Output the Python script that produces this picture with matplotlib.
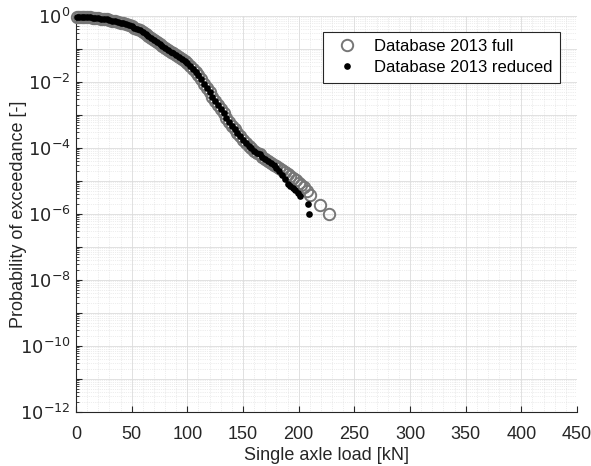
import numpy as np
import matplotlib.pyplot as plt
import matplotlib.ticker as ticker

plt.rcParams['font.family'] = ['Liberation Sans', 'DejaVu Sans']

# --- Datos (carga en kN, log10 de la probabilidad) ---
load_common = [0.5, 2.5, 5, 7.5, 10, 12.5, 15, 17.5, 20, 22.5, 25, 27.5, 30, 32.5,
               35, 37.5, 40, 42.5, 45, 47.5, 50, 52.5, 55, 57.5, 60, 62.5, 65, 67.5,
               70, 72.5, 75, 77.5, 80, 82.5, 85, 87.5, 90, 92.5, 95, 97.5, 100, 102.5,
               105, 107.5, 110, 112.5, 115, 117.5, 120, 122.5, 125, 127.5, 130, 132.5,
               135, 137.5, 140, 142.5, 145, 147.5, 150, 152.5, 155, 157.5, 160, 162.5,
               165, 167.5, 170, 172.5, 175, 177.5]
logp_common = [-0.02, -0.02, -0.025, -0.03, -0.035, -0.04, -0.05, -0.06, -0.07, -0.08,
               -0.09, -0.105, -0.12, -0.14, -0.16, -0.18, -0.20, -0.225, -0.25, -0.28,
               -0.31, -0.35, -0.39, -0.44, -0.49, -0.55, -0.61, -0.675, -0.74, -0.80,
               -0.86, -0.92, -0.98, -1.03, -1.08, -1.135, -1.19, -1.245, -1.30, -1.37,
               -1.44, -1.52, -1.60, -1.70, -1.80, -1.92, -2.05, -2.18, -2.32, -2.45,
               -2.57, -2.70, -2.82, -2.95, -3.08, -3.21, -3.33, -3.44, -3.55, -3.65,
               -3.75, -3.84, -3.93, -4.01, -4.08, -4.14, -4.20, -4.27, -4.33, -4.39,
               -4.45, -4.51]

# cola de la base completa
load_full_tail = [180, 182.5, 185, 187.5, 190, 192.5, 195, 197.5, 200, 202.5, 205,
                  207.5, 210, 219, 227]
logp_full_tail = [-4.55, -4.62, -4.68, -4.74, -4.80, -4.86, -4.92, -4.98, -5.05,
                  -5.12, -5.20, -5.30, -5.42, -5.73, -6.0]

# cola de la base reducida
load_red_tail = [180, 182.5, 185, 187.5, 190, 192, 195, 197, 199.7, 201.2, 208.7, 209.6]
logp_red_tail = [-4.60, -4.70, -4.82, -4.95, -5.08, -5.17, -5.22, -5.28, -5.37, -5.47,
                 -5.70, -6.0]

x_full = np.array(load_common + load_full_tail)
p_full = 10.0 ** np.array(logp_common + logp_full_tail)
x_red = np.array(load_common + load_red_tail)
p_red = 10.0 ** np.array(logp_common + logp_red_tail)

# --- Figura ---
fig = plt.figure(figsize=(5.91, 4.66), dpi=100)
ax = fig.add_axes([0.1286, 0.1165, 0.8477, 0.8492])

ax.plot(x_full, p_full, 'o', ms=8.2, mfc='none', mec='#767676', mew=1.4,
        clip_on=False, label='Database 2013 full', zorder=3)
ax.plot(x_red, p_red, 'o', ms=4.8, mfc='black', mec='black', mew=0,
        clip_on=False, label='Database 2013 reduced', zorder=4)

ax.set_yscale('log')
ax.set_xlim(0, 450)
ax.set_ylim(1e-12, 1)
ax.xaxis.set_major_locator(ticker.MultipleLocator(50))
ax.xaxis.set_minor_locator(ticker.MultipleLocator(10))
ax.yaxis.set_major_locator(ticker.LogLocator(base=10, numticks=20))
ax.yaxis.set_minor_locator(ticker.LogLocator(base=10, subs=np.arange(2, 10), numticks=20))


def fmt_y(v, pos):
    e = int(round(np.log10(v)))
    return r'$10^{%d}$' % e if e % 2 == 0 else ''


ax.yaxis.set_major_formatter(ticker.FuncFormatter(fmt_y))
ax.yaxis.set_minor_formatter(ticker.NullFormatter())

ax.grid(which='major', color='#dcdcdc', linewidth=0.6)
ax.grid(which='minor', color='#dcdcdc', linewidth=0.5, linestyle=':')
ax.set_axisbelow(True)

for s in ['top', 'right']:
    ax.spines[s].set_visible(False)
for s in ['left', 'bottom']:
    ax.spines[s].set_color('#262626')
    ax.spines[s].set_linewidth(0.8)

ax.tick_params(which='both', direction='in', colors='#262626', labelsize=13)
ax.tick_params(which='major', length=4)
ax.tick_params(which='minor', length=2)
ax.tick_params(axis='x', which='minor', length=0)
ax.tick_params(axis='x', which='major', pad=10)
ax.tick_params(axis='y', which='major', pad=4)

ax.set_xlabel('Single axle load [kN]', fontsize=13, color='#262626')
ax.set_ylabel('Probability of exceedance [-]', fontsize=13, color='#262626')
ax.xaxis.set_label_coords(0.5, -0.088)
ax.yaxis.set_label_coords(-0.098, 0.5)

leg = ax.legend(loc='upper right', bbox_to_anchor=(0.966, 0.96), borderaxespad=0,
                fontsize=12, fancybox=False, framealpha=1, edgecolor='#262626',
                handletextpad=0.6, borderpad=0.45, labelspacing=0.35)
leg.get_frame().set_linewidth(0.8)

fig.savefig('out.png', dpi=100)
